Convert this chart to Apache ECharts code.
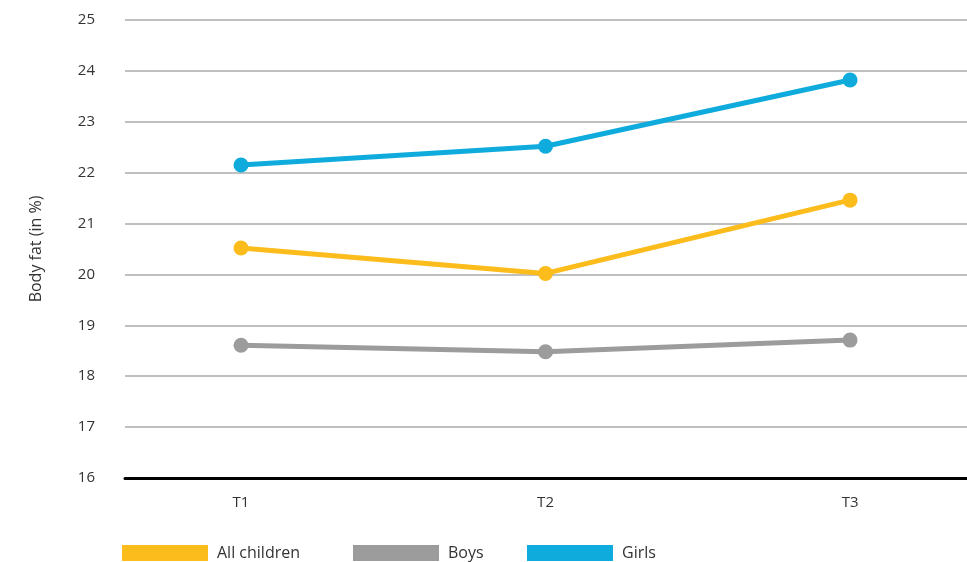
<!DOCTYPE html>
<html>
<head>
<meta charset="utf-8">
<script src="https://cdn.jsdelivr.net/npm/echarts@6/dist/echarts.min.js"></script>
<style>
  html, body { margin: 0; padding: 0; background: #fff; }
  #chart { width: 967px; height: 562px; }
</style>
</head>
<body>
<div id="chart"></div>
<script>
// Measurement waves and body-fat averages per group
const categories = ['T1', 'T2', 'T3'];
const allChildren = [20.52, 20.02, 21.46];
const boys = [18.61, 18.48, 18.71];
const girls = [22.15, 22.52, 23.82];
const yTicks = [16, 17, 18, 19, 20, 21, 22, 23, 24, 25];

const seriesDefs = [
  { name: 'All children', values: allChildren, color: '#FBBC1C' },
  { name: 'Boys', values: boys, color: '#9C9C9C' },
  { name: 'Girls', values: girls, color: '#0FABDC' }
];

const FONT = '"Open Sans", "Noto Sans", sans-serif';
const chart = echarts.init(document.getElementById('chart'), null, { renderer: 'canvas' });

// Position of each wave on the x scale (1-based)
const toPairs = vals => vals.map((v, i) => [i + 1, v]);

const legendLefts = [122, 353, 527];

chart.setOption({
  animation: false,
  backgroundColor: '#ffffff',
  textStyle: { fontFamily: FONT },
  grid: { left: 125, right: 0, top: 20, bottom: 84, containLabel: false },
  legend: seriesDefs.map((s, i) => ({
    data: [s.name],
    left: legendLefts[i],
    top: 545,
    icon: 'rect',
    itemWidth: 86,
    itemHeight: 16,
    itemGap: 0,
    padding: 0,
    selectedMode: false,
    textStyle: { fontFamily: FONT, fontSize: 16, color: '#333', padding: [0, 0, 0, 4] }
  })),
  xAxis: {
    type: 'value',
    min: 0.619,
    max: 3.384,
    splitLine: { show: false },
    axisTick: { show: false },
    axisLine: { show: true, onZero: false, lineStyle: { color: '#000', width: 3 } },
    axisLabel: {
      customValues: [1, 2, 3],
      formatter: v => categories[Math.round(v) - 1] || '',
      margin: 17,
      fontFamily: FONT,
      fontSize: 15,
      color: '#333'
    }
  },
  yAxis: {
    type: 'value',
    min: yTicks[0],
    max: yTicks[yTicks.length - 1],
    interval: 1,
    name: 'Body fat (in %)',
    nameLocation: 'middle',
    nameGap: 81,
    nameTextStyle: { fontFamily: FONT, fontSize: 16, color: '#333' },
    axisLine: { show: false },
    axisTick: { show: false },
    axisLabel: { margin: 30, fontFamily: FONT, fontSize: 15, color: '#333' },
    splitLine: { show: true, lineStyle: { color: '#ababab', width: 1.5 } }
  },
  series: seriesDefs.map(s => ({
    name: s.name,
    type: 'line',
    data: toPairs(s.values),
    symbol: 'circle',
    symbolSize: 15,
    showSymbol: true,
    lineStyle: { color: s.color, width: 5 },
    itemStyle: { color: s.color },
    emphasis: { disabled: true },
    z: 3
  }))
});
</script>
</body>
</html>
